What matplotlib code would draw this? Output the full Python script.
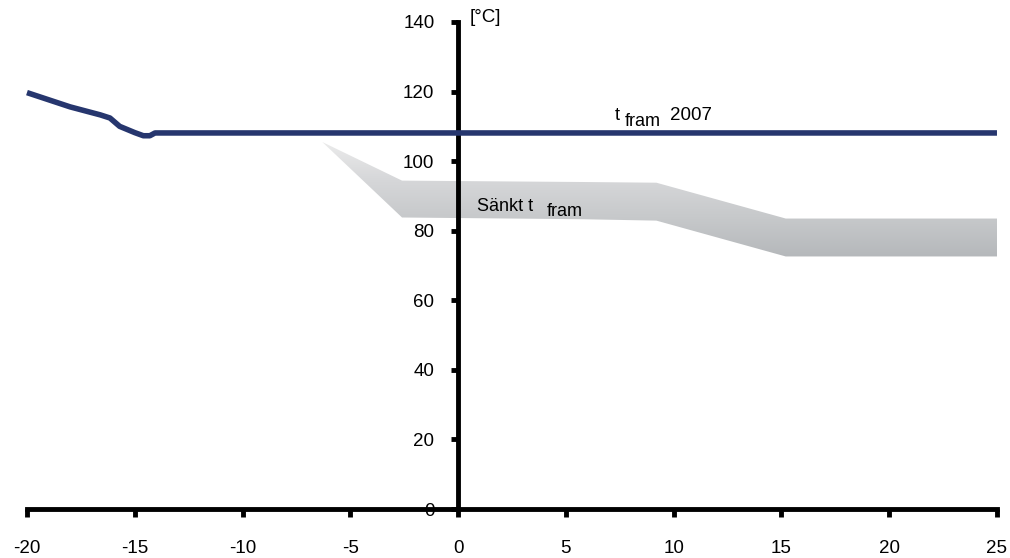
import numpy as np
import matplotlib
matplotlib.use("Agg")
import matplotlib.pyplot as plt
from matplotlib.patches import Polygon
from matplotlib.colors import LinearSegmentedColormap

plt.rcParams['font.family'] = ['Liberation Sans', 'DejaVu Sans']
plt.rcParams['axes.unicode_minus'] = False

# supply temperature 2007 (t fram) vs outdoor temperature
line_x = [-20, -18, -16.6, -16.15, -15.7, -15, -14.6, -14.3, -14.06, -13, 25]
line_y = [119.7, 115.6, 113.3, 112.4, 110.0, 108.2, 107.3, 107.3, 108.1, 108.1, 108.1]

# lowered supply temperature band (Sänkt t fram)
band_x = [-6.3, -2.6, 5.8, 9.2, 15.2, 25.1]
band_hi = [105.5, 94.4, 94.0, 93.8, 83.5, 83.5]
band_lo = [105.5, 83.8, 83.3, 82.9, 72.6, 72.6]

xticks = [-20, -15, -10, -5, 0, 5, 10, 15, 20, 25]
yticks = [0, 20, 40, 60, 80, 100, 120, 140]

fig = plt.figure(figsize=(10.1, 5.58), dpi=100)
ax = fig.add_axes([0.0267, 0.0878, 0.9604, 0.8728])

# gradient filled band
verts = list(zip(band_x, band_hi)) + list(zip(band_x[::-1], band_lo[::-1]))
patch = Polygon(verts, closed=True, facecolor='none', edgecolor='none')
ax.add_patch(patch)
cmap = LinearSegmentedColormap.from_list('band', ['#b4b7ba', '#c6c8ca', '#d6d7d9', '#ececec'])
grad = np.linspace(0, 1, 256).reshape(-1, 1)
im = ax.imshow(grad, cmap=cmap, origin='lower', aspect='auto',
               extent=[min(band_x), max(band_x), 72, 106], zorder=1)
im.set_clip_path(patch)
ax.set_xlim(-20, 25)
ax.set_ylim(0, 140)

ax.plot(line_x, line_y, color='#26366e', lw=4, zorder=5, clip_on=False,
        solid_capstyle='butt')

# spines through origin
for s in ['top', 'right']:
    ax.spines[s].set_visible(False)
ax.spines['left'].set_position(('data', 0))
ax.spines['bottom'].set_position(('data', 0))
ax.spines['left'].set_linewidth(3.5)
ax.spines['bottom'].set_linewidth(3.5)
ax.spines['left'].set_zorder(3)
ax.spines['bottom'].set_zorder(3)

ax.set_xticks(xticks)
ax.set_yticks(yticks)
ax.tick_params(axis='x', direction='out', length=6, width=3.5, pad=16, labelsize=13.5)
ax.tick_params(axis='y', direction='out', length=5, width=3.5, pad=12, labelsize=13.5)

ax.text(0.55, 141.4, '[°C]', fontsize=13.5, ha='left', va='center')

ax.text(7.27, 111.7, 't', fontsize=13, ha='left', va='baseline', zorder=6)
ax.text(7.74, 110.0, 'fram', fontsize=13, ha='left', va='baseline', zorder=6)
ax.text(9.82, 111.7, '2007', fontsize=13.5, ha='left', va='baseline', zorder=6)

ax.text(0.87, 85.6, 'Sänkt t', fontsize=13, ha='left', va='baseline', zorder=6)
ax.text(4.12, 84.2, 'fram', fontsize=13, ha='left', va='baseline', zorder=6)

fig.savefig('out.png', dpi=100)
